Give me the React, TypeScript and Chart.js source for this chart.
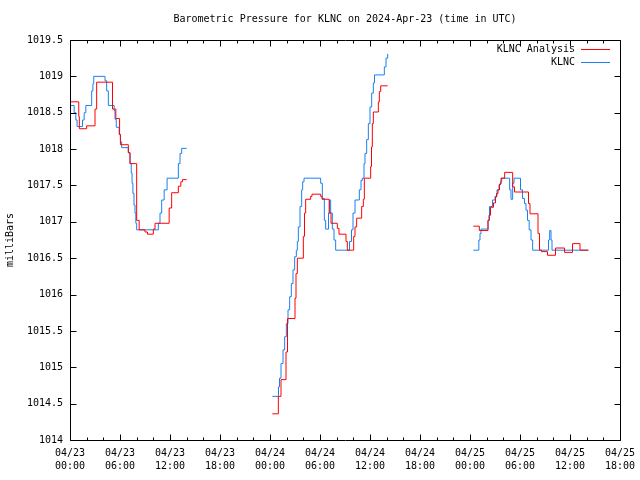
import React, { useEffect, useRef } from "react";
import { Chart, registerables } from "chart.js";

Chart.register(...registerables);

const chartTitle = "Barometric Pressure for KLNC on 2024-Apr-23 (time in UTC)";
const yAxisTitle = "milliBars";
const seriesNames = ["KLNC Analysis", "KLNC"];
const seriesColors = ["#ff0000", "#1a80f0"];
const monthLabel = "04";
const firstDay = 23;

// hours since 04/23 00:00 UTC ; null value = data gap
const analysisHours = [
  0, 1.05, 1.12, 2.0, 3.0, 3.2, 5.1, 5.5, 5.95, 6.05, 7.0, 7.2, 8.0, 8.3, 9.0, 9.3, 10.0, 10.2, 11.9, 12.2, 13.0, 13.3, 13.5, 14.0,
  19,
  24.28, 25.0, 25.32, 25.92, 26.1, 27.0, 27.12, 27.28, 28.0, 28.14, 28.28, 28.88, 29.04, 30.08, 30.24, 31.1, 31.32, 32.08, 32.28, 33.12, 33.28, 34.04, 34.2, 34.4, 35.0, 35.2, 35.32, 36.08, 36.18, 36.28, 36.4, 37.0, 37.12, 37.28, 38.12,
  44,
  48.4, 49.12, 50.16, 50.28, 50.46, 50.82, 51.06, 51.18, 51.36, 51.54, 51.72, 52.16, 53.12, 53.34, 55.02, 55.2, 56.16, 56.34, 56.58, 57.3, 58.26, 59.34, 60.3, 61.2, 62.2,
];
const analysisValues = [
  1018.65, 1018.45, 1018.28, 1018.32, 1018.55, 1018.92, 1018.55, 1018.42, 1018.2, 1018.06, 1017.95, 1017.8, 1017.02, 1016.89, 1016.86, 1016.83, 1016.9, 1016.98, 1017.19, 1017.4, 1017.49, 1017.55, 1017.58, 1017.58,
  null,
  1014.36, 1014.6, 1014.83, 1015.21, 1015.67, 1015.95, 1016.29, 1016.5, 1016.8, 1017.12, 1017.31, 1017.35, 1017.38, 1017.35, 1017.31, 1017.12, 1016.98, 1016.91, 1016.83, 1016.73, 1016.61, 1016.8, 1016.93, 1017.05, 1017.21, 1017.31, 1017.6, 1017.76, 1018.03, 1018.35, 1018.51, 1018.65, 1018.79, 1018.87, 1018.87,
  null,
  1016.94, 1016.88, 1017.02, 1017.09, 1017.2, 1017.26, 1017.34, 1017.39, 1017.44, 1017.52, 1017.6, 1017.68, 1017.48, 1017.41, 1017.25, 1017.11, 1016.84, 1016.61, 1016.59, 1016.54, 1016.64, 1016.58, 1016.7, 1016.61, 1016.61,
];

const klncHours = [
  0, 0.5, 0.7, 0.85, 1.5, 1.7, 1.9, 2.6, 2.75, 2.85, 4.2, 4.4, 4.6, 5.3, 5.4, 5.55, 5.9, 6.05, 6.2, 7.0, 7.2, 7.35, 7.45, 7.55, 7.68, 7.8, 7.9, 8.0, 10.6, 10.8, 11.0, 11.3, 11.65, 13.0, 13.2, 13.4, 14.0,
  19,
  24.28, 25.02, 25.14, 25.32, 25.56, 25.76, 25.96, 26.16, 26.36, 26.56, 26.76, 26.96, 27.16, 27.28, 27.4, 27.6, 27.8, 27.92, 28.08, 30.08, 30.28, 30.52, 30.68, 31.02, 31.14, 31.28, 31.48, 31.68, 31.88, 33.54, 33.78, 33.96, 34.2, 34.72, 34.92, 35.08, 35.28, 35.4, 35.6, 35.8, 36.0, 36.2, 36.4, 36.54, 37.72, 37.92, 38.12,
  44,
  48.4, 49.06, 49.2, 49.32, 50.16, 50.34, 50.7, 51.0, 51.24, 51.48, 51.66, 51.8, 52.76, 52.92, 53.12, 53.28, 54.06, 54.3, 54.54, 54.72, 54.9, 55.1, 55.32, 55.52, 57.42, 57.56, 57.72, 57.84, 62.2,
];
const klncValues = [
  1018.6, 1018.5, 1018.4, 1018.31, 1018.4, 1018.5, 1018.6, 1018.8, 1018.9, 1019.0, 1018.94, 1018.8, 1018.6, 1018.53, 1018.41, 1018.3, 1018.2, 1018.1, 1018.02, 1017.95, 1017.8, 1017.67, 1017.53, 1017.39, 1017.23, 1017.12, 1016.98, 1016.89, 1016.98, 1017.12, 1017.3, 1017.44, 1017.6, 1017.8, 1017.94, 1018.01, 1018.01,
  null,
  1014.6, 1014.73, 1014.85, 1015.05, 1015.24, 1015.42, 1015.6, 1015.79, 1015.97, 1016.15, 1016.34, 1016.52, 1016.61, 1016.73, 1016.93, 1017.21, 1017.44, 1017.55, 1017.6, 1017.53, 1017.32, 1017.02, 1016.9, 1017.12, 1017.3, 1017.12, 1016.9, 1016.75, 1016.61, 1016.73, 1016.89, 1017.12, 1017.3, 1017.44, 1017.57, 1017.6, 1017.8, 1017.94, 1018.13, 1018.35, 1018.58, 1018.77, 1018.91, 1019.02, 1019.13, 1019.25, 1019.31,
  null,
  1016.61, 1016.75, 1016.84, 1016.9, 1017.02, 1017.21, 1017.3, 1017.35, 1017.44, 1017.51, 1017.55, 1017.6, 1017.44, 1017.31, 1017.53, 1017.6, 1017.44, 1017.32, 1017.25, 1017.16, 1017.02, 1016.89, 1016.75, 1016.61, 1016.75, 1016.88, 1016.75, 1016.61, 1016.61,
];

const xMin = 0;
const xMax = 66;
const xMajorStep = 6;
const xMinorStep = 2;
const yMin = 1014;
const yMax = 1019.5;
const yStep = 0.5;

const FONT_FAMILY = "'DejaVu Sans Mono', monospace";
const FONT_SIZE = 10;

function toPoints(hours: number[], values: (number | null)[]) {
  return hours.map((h, i) => ({ x: h, y: values[i] }));
}

function formatX(v: number): string[] {
  const day = firstDay + Math.floor(v / 24);
  const hr = Math.round(v % 24);
  const hh = hr < 10 ? "0" + hr : String(hr);
  return [monthLabel + "/" + day, hh + ":00"];
}

const framePlugin = {
  id: "gnuplotFrame",
  afterDraw(chart: any) {
    const ctx = chart.ctx as CanvasRenderingContext2D;
    const { left, right, top, bottom } = chart.chartArea;
    const xs = chart.scales.x;
    const ys = chart.scales.y;
    ctx.save();
    ctx.strokeStyle = "#000";
    ctx.lineWidth = 1;
    const L = Math.round(left) + 0.5;
    const R = Math.round(right) + 0.5;
    const T = Math.round(top) + 0.5;
    const B = Math.round(bottom) + 0.5;
    ctx.beginPath();
    ctx.rect(L, T, R - L, B - T);
    // x ticks
    for (let v = xMin; v <= xMax + 1e-9; v += xMinorStep) {
      const isMajor = Math.abs(v % xMajorStep) < 1e-9;
      const len = isMajor ? 6 : 3;
      const px = Math.round(xs.getPixelForValue(v)) + 0.5;
      ctx.moveTo(px, B);
      ctx.lineTo(px, B - len);
      ctx.moveTo(px, T);
      ctx.lineTo(px, T + len);
    }
    // y ticks
    for (let v = yMin; v <= yMax + 1e-9; v += yStep) {
      const py = Math.round(ys.getPixelForValue(v)) + 0.5;
      ctx.moveTo(L, py);
      ctx.lineTo(L + 6, py);
      ctx.moveTo(R, py);
      ctx.lineTo(R - 6, py);
    }
    ctx.stroke();

    ctx.fillStyle = "#000";
    ctx.font = `${FONT_SIZE}px ${FONT_FAMILY}`;
    // title
    ctx.textAlign = "center";
    ctx.textBaseline = "middle";
    ctx.fillText(chartTitle, (left + right) / 2, 19);
    // y axis title
    ctx.save();
    ctx.translate(10, (top + bottom) / 2);
    ctx.rotate(-Math.PI / 2);
    ctx.fillText(yAxisTitle, 0, 0);
    ctx.restore();
    // legend
    const rows = [49.5, 62.5];
    seriesNames.forEach((name, i) => {
      ctx.textAlign = "right";
      ctx.fillStyle = "#000";
      ctx.fillText(name, 575, rows[i]);
      ctx.strokeStyle = seriesColors[i];
      ctx.beginPath();
      ctx.moveTo(581, Math.floor(rows[i]) + 0.5);
      ctx.lineTo(610, Math.floor(rows[i]) + 0.5);
      ctx.stroke();
    });
    ctx.restore();
  },
};

export default function App() {
  const ref = useRef<HTMLCanvasElement | null>(null);
  useEffect(() => {
    if (!ref.current) return;
    const font = { family: FONT_FAMILY, size: FONT_SIZE, lineHeight: 1.3 };
    const chart = new Chart(ref.current, {
      type: "line",
      data: {
        datasets: [
          {
            label: seriesNames[0],
            data: toPoints(analysisHours, analysisValues) as any,
            borderColor: seriesColors[0],
            borderWidth: 1,
            pointRadius: 0,
            stepped: "before",
            spanGaps: false,
            fill: false,
          },
          {
            label: seriesNames[1],
            data: toPoints(klncHours, klncValues) as any,
            borderColor: seriesColors[1],
            borderWidth: 1,
            pointRadius: 0,
            stepped: "before",
            spanGaps: false,
            fill: false,
          },
        ],
      },
      options: {
        responsive: false,
        animation: false,
        layout: { padding: { top: 40, right: 20, left: 0, bottom: 0 } },
        plugins: {
          legend: { display: false },
          title: { display: false },
          tooltip: { enabled: false },
        },
        scales: {
          x: {
            type: "linear",
            min: xMin,
            max: xMax,
            grid: { display: false, drawTicks: false },
            border: { display: false },
            ticks: {
              stepSize: xMajorStep,
              autoSkip: false,
              maxRotation: 0,
              padding: 7,
              color: "#000",
              font,
              callback: (v: any) => formatX(Number(v)),
            },
            afterFit: (s: any) => {
              s.height = 40;
              s.paddingLeft = 0;
              s.paddingRight = 0;
            },
          },
          y: {
            min: yMin,
            max: yMax,
            grid: { display: false, drawTicks: false },
            border: { display: false },
            ticks: {
              stepSize: yStep,
              autoSkip: false,
              padding: 7,
              color: "#000",
              font,
              callback: (v: any) => String(Number(Number(v).toFixed(1))),
            },
            afterFit: (s: any) => {
              s.width = 70;
              s.paddingTop = 0;
              s.paddingBottom = 0;
            },
          },
        },
      },
      plugins: [framePlugin],
    });
    return () => chart.destroy();
  }, []);
  return (
    <canvas
      ref={ref}
      width={640}
      height={480}
      style={{ position: "fixed", left: 0, top: 0, width: 640, height: 480, background: "#fff" }}
    />
  );
}
